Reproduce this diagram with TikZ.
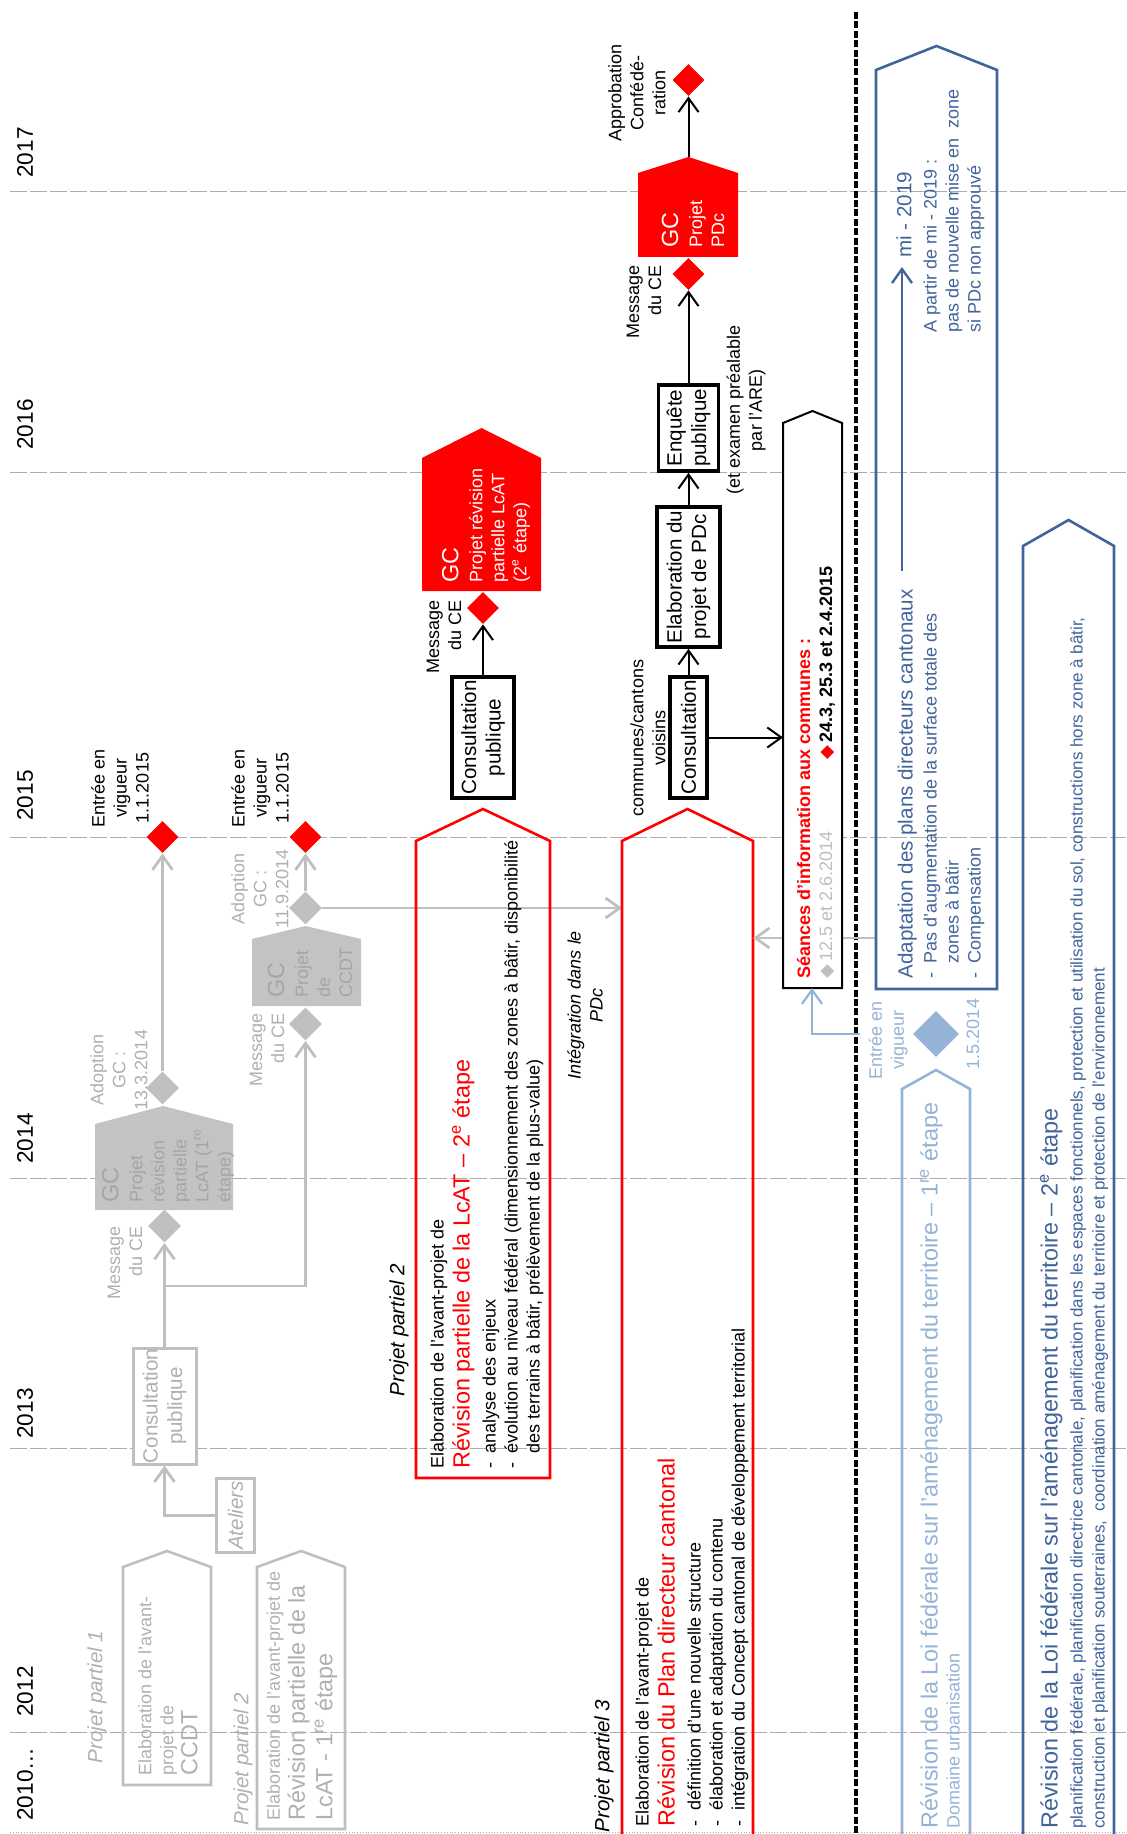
\documentclass[tikz,border=0pt]{standalone}
\usepackage{fontspec}
\setmainfont{Liberation Sans}
\newfontfamily\dvsfont{DejaVu Sans}
\usetikzlibrary{arrows.meta,shapes.geometric}

\definecolor{pred}{HTML}{FF0000}
\definecolor{lgray}{HTML}{BFBFBF}
\definecolor{tgray}{HTML}{B0B0B0}
\definecolor{gfill}{HTML}{C3C3C3}
\definecolor{gtext}{HTML}{A5A5A5}
\definecolor{lblue}{HTML}{95B3D7}
\definecolor{dblue}{HTML}{41649B}
\definecolor{yline}{HTML}{ADADAD}

\newcommand{\fsm}{\fontsize{9}{11}\selectfont}
\newcommand{\fmd}{\fontsize{10.3}{12.3}\selectfont}
\newcommand{\flg}{\fontsize{11.7}{13.5}\selectfont}
\newcommand{\fyr}{\fontsize{11.3}{13}\selectfont}
\newcommand{\fti}{\fontsize{8.5}{10.5}\selectfont}
\newcommand{\lidash}{\makebox[7.5pt][l]{-}}
\newcommand{\lidia}[1]{\textcolor{#1}{\dvsfont ◆}}

\tikzset{
  txt/.style={rotate=90,inner sep=0pt,font=\fsm},
  pbox/.style={draw,line width=1.8pt,fill=white,rotate=90,inner sep=0pt,align=center,font=\fmd},
  gbox/.style={draw=lgray,text=tgray,line width=1.5pt,fill=white,rotate=90,inner sep=0pt,align=center,font=\fmd},
  reddia/.style={diamond,fill=pred,inner sep=0pt,minimum width=16pt,minimum height=16pt},
  graydia/.style={reddia,fill=lgray,minimum width=16.5pt,minimum height=16.5pt},
  barr/.style={->,line width=1pt},
  garr/.style={->,draw=lgray,line width=1.4pt},
  house/.style={line width=1.3pt},
  yearline/.style={yline,line width=0.5pt,dash pattern=on 8.5pt off 1.5pt}
}

\begin{document}
\begin{tikzpicture}[x=0.5pt,y=-0.5pt,>={Straight Barb[length=7pt,width=10pt]}]
  \useasboundingbox (0,0) rectangle (1126,1834);

  % Years.
  \foreach \yr/\ly/\lb in {2017/192/178,2016/472/450,2015/837/821,2014/1178/1164,2013/1448/1439,2012/1732/1717}{
    \draw[yearline] (10,\ly) -- (1126,\ly);
    \node[txt,font=\fyr,anchor=west] (y\yr) at (25,\lb) {\yr};
  }
  \node[txt,font=\fyr,anchor=west] (y2010) at (25,1821) {2010…};
  \draw[yline,line width=0.4pt,densely dotted] (10,1832) -- (1126,1832);
  \draw[line width=1.7pt,dash pattern=on 3.5pt off 1.2pt] (856,12) -- (856,1834);

  % Past steps (gray).
  \node[txt,font=\fmd\itshape,text=tgray] (pp1g) at (97,1697) {Projet partiel 1};
  \draw[house,lgray] (123,1785) -- (123,1567) -- (167,1551) -- (211,1567) -- (211,1785) -- cycle;
  \node[txt,text=tgray,anchor=west,align=left] (ccdt) at (168,1776)
    {Elaboration de l'avant-\\projet de\\[1pt]{\flg CCDT}};
  \node[txt,font=\fmd\itshape,text=tgray] (pp2g) at (243,1759) {Projet partiel 2};
  \draw[house,lgray] (257,1829) -- (257,1567) -- (301,1551) -- (345,1567) -- (345,1829) -- cycle;
  \node[txt,text=tgray,anchor=west,align=left] (lcat1) at (302,1821)
    {Elaboration de l'avant-projet de\\[1.5pt]{\flg Révision partielle de la}\\[1.5pt]{\flg LcAT - 1\textsuperscript{re} étape}};
  \node[gbox,font=\fmd\itshape,minimum width=37pt,minimum height=19pt] (atel) at (235.5,1515.5) {Ateliers};
  \node[gbox,minimum width=58pt,minimum height=31.5pt] (cons1) at (164.5,1406) {Consultation\\publique};
  \node[graydia] (gmsg1) at (164.5,1226) {};
  \node[graydia] (gado1) at (162.5,1088) {};
  \node[graydia] (gmsg2) at (305.5,1024) {};
  \node[graydia] (gado2) at (305.5,908) {};
  \fill[gfill] (95,1210) -- (95,1124) -- (163,1106) -- (233,1124) -- (233,1210) -- cycle;
  \node[txt,text=gtext,anchor=west,align=left] (gc1) at (168,1203)
    {{\flg GC}\\[1pt]Projet\\révision\\partielle\\LcAT (1\textsuperscript{re}\\étape)};
  \fill[gfill] (252,1006) -- (252,939) -- (305.5,926) -- (361,939) -- (361,1006) -- cycle;
  \node[txt,text=gtext,anchor=west,align=left] (gc2) at (310,998)
    {{\flg GC}\\[1pt]Projet\\de\\CCDT};
  \node[txt,text=tgray,anchor=east,align=right] (lmsg1) at (125,1226) {Message\\du CE};
  \node[txt,text=tgray,align=center] (lado1) at (119,1070) {Adoption\\GC :\\13.3.2014};
  \node[txt,text=tgray,anchor=east,align=right] (lmsg2) at (267,1013) {Message\\du CE};
  \node[txt,text=tgray,align=center] (lado2) at (260,889) {Adoption\\GC :\\11.9.2014};
  \node[reddia] (rvig1) at (162.5,837) {};
  \node[reddia] (rvig2) at (305.5,837) {};
  \node[txt,align=center] (lvig1) at (120,788) {Entrée en\\vigueur\\1.1.2015};
  \node[txt,align=center] (lvig2) at (260,788) {Entrée en\\vigueur\\1.1.2015};
  \coordinate (gbr) at (164.5,1286);
  \coordinate (pp3w) at (622,908);
  \draw[garr] (cons1.east) -- (gmsg1.south);
  \draw[garr] (gbr) -| (gmsg2.south);
  \draw[garr] (atel.north) -| (cons1.west);
  \draw[garr] (gado1.north) -- (rvig1.south);
  \draw[garr] (gado2.north) -- (rvig2.south);
  \draw[garr] (gado2.east) -- (pp3w);

  % Projet partiel 2.
  \node[txt,font=\fmd\itshape] (pp2) at (399,1330) {Projet partiel 2};
  \draw[house,pred] (416,1478) -- (416,841) -- (483,809) -- (550,841) -- (550,1478) -- cycle;
  \node[txt,anchor=west,align=left] (lcat2) at (487,1469)
    {Elaboration de l'avant-projet de\\[2pt]
     {\flg\color{pred}Révision partielle de la LcAT – 2\textsuperscript{e} étape}\\[2pt]
     \lidash analyse des enjeux\\
     \lidash évolution au niveau fédéral (dimensionnement des zones à bâtir, disponibilité\\
     \hspace*{7.5pt}des terrains à bâtir, prélèvement de la plus-value)};
  \node[txt,align=center,font=\fsm\itshape] (integ) at (585,1005) {Intégration dans le\\PDc};
  \node[pbox,minimum width=60.5pt,minimum height=31pt] (cons2) at (483,737.5) {Consultation\\publique};
  \node[reddia] (rmsg2) at (483,608) {};
  \node[txt,anchor=east,align=right] (lmsg3) at (444,600) {Message\\du CE};
  \fill[pred] (422,591) -- (422,458) -- (481.5,428) -- (541,458) -- (541,591) -- cycle;
  \node[txt,text=white,anchor=west,align=left] (gc3) at (486,583)
    {{\flg GC}\\[1pt]Projet révision\\partielle LcAT\\(2\textsuperscript{e} étape)};
  \draw[barr] (cons2) -- (rmsg2);

  % Projet partiel 3.
  \node[txt,font=\fmd\itshape] (pp3) at (604,1766) {Projet partiel 3};
  \draw[house,pred] (622,1840) -- (622,841) -- (687.5,809) -- (753,841) -- (753,1840);
  \node[txt,anchor=west,align=left] (pdc) at (692,1827)
    {Elaboration de l'avant-projet de\\[2pt]
     {\flg\color{pred}Révision du Plan directeur cantonal}\\[2pt]
     \makebox[8pt][l]{-}définition d'une nouvelle structure\\
     \makebox[8pt][l]{-}élaboration et adaptation du contenu\\
     \makebox[8pt][l]{-}intégration du Concept cantonal de développement territorial};
  \node[pbox,minimum width=60.5pt,minimum height=18.5pt] (cons3) at (688.5,737.5) {Consultation};
  \node[txt,align=center] (lvois) at (648,738) {communes/cantons\\voisins};
  \node[pbox,minimum width=70pt,minimum height=31.5pt] (elab) at (688.5,577) {Elaboration du\\projet de PDc};
  \node[pbox,minimum width=43pt,minimum height=30pt] (enq) at (688.5,428) {Enquête\\publique};
  \node[txt,align=center] (lare) at (746,410) {(et examen préalable\\par l'ARE)};
  \node[reddia] (rmsg3) at (688.5,274) {};
  \node[txt,anchor=east,align=right] (lmsg4) at (644,265) {Message\\du CE};
  \fill[pred] (638,257) -- (638,173) -- (688.5,157) -- (738,173) -- (738,257) -- cycle;
  \coordinate (pdctop) at (688.5,157);
  \node[txt,text=white,anchor=west,align=left] (gc4) at (693,248) {{\flg GC}\\[1pt]Projet\\PDc};
  \node[reddia] (rappr) at (688.5,80) {};
  \node[txt,align=center] (lappr) at (637,93) {Approbation\\Confédé-\\ration};
  \draw[barr] (cons3) -- (elab);
  \draw[barr] (elab) -- (enq);
  \draw[barr] (enq) -- (rmsg3);
  \draw[barr] (pdctop) -- (rappr);

  % Seances d'information.
  \coordinate (adaw) at (876,938);
  \coordinate (pp3e) at (753,938);
  \draw[garr] (adaw) -- (pp3e);
  \draw[line width=1pt,fill=white] (783,988) -- (783,423) -- (812.5,411) -- (842,423) -- (842,988) -- cycle;
  \coordinate (seaw) at (783,737.5);
  \coordinate (seas) at (812,988);
  \node[txt,anchor=west,align=left] (seatxt) at (816,979)
    {{\color{pred}\bfseries Séances d'information aux communes :}\\
     {\color{lgray}\lidia{lgray}\,12.5 et 2.6.2014}\hspace{36pt}\lidia{pred}\,\textbf{24.3, 25.3 et 2.4.2015}};
  \draw[barr] (cons3.south) -- (seaw);

  % Federal law (blue).
  \draw[house,lblue] (902,1840) -- (902,1089) -- (936,1070) -- (970,1089) -- (970,1840);
  \node[txt,text=lblue,anchor=west,align=left] (lat1) at (940,1829)
    {{\flg Révision de la Loi fédérale sur l'aménagement du territoire – 1\textsuperscript{re} étape}\\Domaine urbanisation};
  \node[reddia,fill=lblue,minimum width=23pt,minimum height=23pt] (lbdia) at (936,1034) {};
  \node[txt,text=lblue,align=center] (llb1) at (888,1040) {Entrée en\\vigueur};
  \node[txt,text=lblue] (llb2) at (973,1034) {1.5.2014};
  \coordinate (lbsrc) at (860,1034);
  \draw[->,lblue,line width=1.1pt] (lbsrc) -| (seas);

  \draw[house,dblue] (876,989) -- (876,70) -- (936.5,46) -- (997,70) -- (997,989) -- cycle;
  \node[txt,text=dblue,anchor=west,align=left] (adapt) at (941,979)
    {{\fmd Adaptation des plans directeurs cantonaux}\\[1pt]
     \lidash Pas d'augmentation de la surface totale des\\
     \hspace*{7.5pt}zones à bâtir\\
     \lidash Compensation};
  \coordinate (misrc) at (902,571);
  \node[txt,font=\fmd,text=dblue,anchor=west] (mi) at (904,258) {mi - 2019};
  \draw[->,dblue,line width=1.2pt,shorten >=4.5pt] (misrc) -- (misrc |- mi.west);
  \node[txt,text=dblue,anchor=west,align=left] (mitxt) at (954,333)
    {A partir de mi - 2019 :\\pas de nouvelle mise en\ \ zone\\si PDc non approuvé};

  \draw[house,dblue] (1023,1840) -- (1023,546) -- (1068.5,520) -- (1114,546) -- (1114,1840);
  \node[txt,text=dblue,anchor=west,align=left] (lat2) at (1074,1829)
    {{\flg Révision de la Loi fédérale sur l'aménagement du territoire – 2\textsuperscript{e} étape}\\[1.5pt]
     {\fti planification fédérale, planification directrice cantonale, planification dans les espaces fonctionnels, protection et utilisation du sol, constructions hors zone à bâtir,}\\
     {\fti construction et planification souterraines,\ \ coordination aménagement du territoire et protection de l'environnement}};
\end{tikzpicture}
\end{document}
